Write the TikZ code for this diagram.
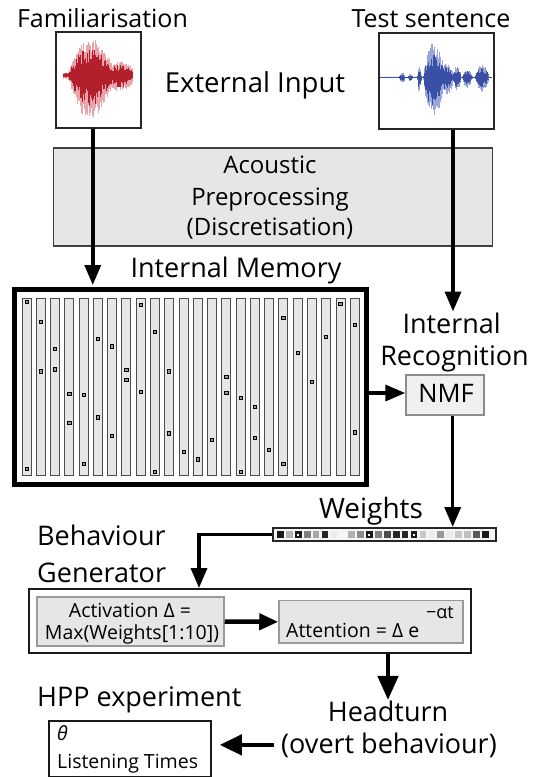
\documentclass[tikz,border=0pt]{standalone}
\usepackage{fontspec}
\setmainfont{Open Sans}
\usetikzlibrary{arrows.meta,calc}
\definecolor{wred}{HTML}{B3202B}
\definecolor{wredl}{HTML}{E9A3AB}
\definecolor{wblue}{HTML}{3A4FA6}
\definecolor{wbluel}{HTML}{9AA6DA}
\definecolor{boxgrey}{HTML}{E6E6E7}
\tikzset{
  big/.style={font=\fontsize{25}{30}\selectfont, inner sep=0pt},
  large/.style={font=\fontsize{27}{32}\selectfont, inner sep=0pt},
  mid/.style={font=\fontsize{24}{28}\selectfont, inner sep=0pt},
  small/.style={font=\fontsize{19.5}{23}\selectfont, inner sep=0pt},
  conn/.style={line width=3.5pt, -{Triangle[width=16pt,length=20pt]}},
  bigconn/.style={line width=4.5pt, -{Triangle[width=20pt,length=22pt]}},
  wavebox/.style={draw=black!85, line width=2pt, fill=white, inner sep=0pt},
  greybox/.style={draw=black!40, line width=1.5pt, fill=boxgrey, inner sep=0pt},
  plainbox/.style={draw=black!90, line width=2pt, fill=white, inner sep=0pt},
  membar/.style={draw=black!70, line width=0.8pt, fill=boxgrey},
  memdot/.style={draw=black, line width=0.7pt, fill=black!40},
}
\begin{document}
\begin{tikzpicture}[x=1pt,y=-1pt]
\useasboundingbox (0,0) rectangle (539,777);
\fill[white] (0,0) rectangle (539,777);

% ---------- external input boxes ----------
\node[wavebox, minimum width=84.5pt, minimum height=95.5pt] (fam) at (98.25,79.75) {};
\node[wavebox, minimum width=115pt, minimum height=95.7pt] (test) at (436.5,80.85) {};

% red waveform
\pgfmathsetseed{11}
\foreach \x in {63,63.6,...,133} {
  \pgfmathsetmacro\A{3 + 34*max(0,1-((\x-90)/22)^2) + 11*max(0,1-((\x-120)/16)^2)}
  \pgfmathsetmacro\ra{\A*(0.6+0.4*rnd)}
  \pgfmathsetmacro\rb{1.2*\A*(0.6+0.4*rnd)}
  \pgfmathsetmacro\rc{0.75*\A*(0.45+0.55*rnd)}
  \pgfmathsetmacro\rd{0.85*\A*(0.45+0.55*rnd)}
  \draw[wredl, line width=0.55pt] (\x,75.3-\ra) -- (\x,75.3+\rb);
  \draw[wred, line width=0.6pt] (\x,75.3-\rc) -- (\x,75.3+\rd);
}
% blue waveform
\pgfmathsetseed{5}
\foreach \x in {380,380.6,...,492} {
  \pgfmathsetmacro\A{0.8 + 34*max(0,1-((\x-433)/10)^2) + 14*max(0,1-((\x-446)/8)^2) + 11*max(0,1-((\x-457)/4)^2) + 8*max(0,1-((\x-467)/5)^2) + 12*max(0,1-((\x-482)/7)^2) + 12*max(0,1-((\x-419)/2)^2) + 4*max(0,1-((\x-402)/3)^2) + 3*max(0,1-((\x-410)/2)^2)}
  \pgfmathsetmacro\ra{\A*(0.6+0.4*rnd)}
  \pgfmathsetmacro\rb{1.2*\A*(0.6+0.4*rnd)}
  \pgfmathsetmacro\rc{0.75*\A*(0.45+0.55*rnd)}
  \pgfmathsetmacro\rd{0.85*\A*(0.45+0.55*rnd)}
  \draw[wbluel, line width=0.55pt] (\x,77.3-\ra) -- (\x,77.3+\rb);
  \draw[wblue, line width=0.6pt] (\x,77.3-\rc) -- (\x,77.3+\rd);
}

\node[big, anchor=base] (famlab) at (102.5,27) {Familiarisation};
\node[big, anchor=base] (testlab) at (431,27) {Test sentence};
\node[large, font=\fontsize{27.5}{32}\selectfont, anchor=base] (extlab) at (255,92) {External Input};

% ---------- preprocessing ----------
\node[greybox, draw=black!75, minimum width=439pt, minimum height=98pt] (pre) at (273,196.85) {};
\node[mid, anchor=base] (pre1) at (270,173.3) {Acoustic};
\node[mid, anchor=base] (pre2) at (270,205) {Preprocessing};
\node[mid, anchor=base] (pre3) at (270,235) {(Discretisation)};

% ---------- internal memory ----------
\node[draw=black, line width=5pt, fill=white, minimum width=352pt, minimum height=195pt, inner sep=0pt] (mem) at (190.5,387) {};
\foreach \i in {0,...,23} {
  \draw[membar] ({22+\i*14.27},298) rectangle ++(9,177);
}
\foreach \b/\y in {1/301.7, 1/469, 2/321.7, 2/371.3, 3/348.7, 3/369.3, 4/394, 4/422.7, 5/394.7, 5/463.7, 6/339, 6/417.3, 7/346.3, 7/435.7, 8/370, 8/379.7, 9/305, 9/391.7, 10/331.7, 10/471.7, 11/371.3, 11/433.3, 12/451.7, 13/459.3, 14/439.7, 15/376.7, 15/393, 16/397.7, 16/471.7, 17/406.7, 17/438, 18/450, 19/317.7, 19/464, 20/353, 21/381.7, 22/336.7, 23/303.7, 24/325, 24/432.3} {
  \draw[memdot] ({26.5+(\b-1)*14.27-1.6},\y-1.6) rectangle ++(3.2,3.2);
}
\node[large, anchor=base] (memlab) at (236,277) {Internal Memory};

% ---------- recognition ----------
\node[large, anchor=base] (rec1) at (451.7,333) {Internal};
\node[large, anchor=base] (rec2) at (454.5,365) {Recognition};
\node[greybox, draw=black!45, fill=black!6, minimum width=78pt, minimum height=40pt] (nmf) at (445,395) {};
\node[big, font=\fontsize{25.5}{30}\selectfont, anchor=base] (nmflab) at (446,402.7) {NMF};
\coordinate (recin) at (453,311.5);

% ---------- weights ----------
\node[draw=black!85, line width=2pt, fill=black!4, minimum width=223pt, minimum height=13pt, inner sep=0pt] (wts) at (384.35,534.5) {};
\foreach \i/\d in {1/90,2/30,3/90,4/50,5/35,6/85,7/8,8/3,9/30,10/45,11/90,12/50,13/70,14/85,15/85,16/90,17/22,18/8,19/40,20/8,21/22,22/25,23/65,24/90} {
  \draw[draw=black!\d!white, line width=0.6pt, fill=black!\d!white] ({280.3+(\i-1)*8.9-2.8},531.7) rectangle ++(5.6,5.6);
}
\foreach \i in {3,11,16} {
  \fill[white] ({280.3+(\i-1)*8.9-1},533.5) rectangle ++(2,2);
}
\node[large, font=\fontsize{28}{32}\selectfont, anchor=base] (wlab) at (371,518) {Weights};

% ---------- behaviour generator ----------
\node[large, anchor=base west] (bg1) at (37,545) {Behaviour};
\node[large, anchor=base west] (bg2) at (37,582) {Generator};
\node[plainbox, minimum width=442pt, minimum height=64pt] (beh) at (250,621) {};
\node[greybox, minimum width=187pt, minimum height=49pt] (act) at (130.5,621.5) {};
\node[small, anchor=base] (act1) at (130,617) {Activation Δ =};
\node[small, anchor=base] (act2) at (132,639) {Max(Weights[1:10])};
\node[greybox, minimum width=184pt, minimum height=42.3pt] (att) at (371,621.85) {};
\node[small, anchor=base west] (att1) at (286,637) {Attention = Δ e};
\node[small, font=\fontsize{18}{22}\selectfont, anchor=base west] (att2) at (426,618) {−αt};

% ---------- output ----------
\node[large, anchor=base] (head1) at (388,721.7) {Headturn};
\node[large, anchor=base] (head2) at (389,753) {(overt behaviour)};
\node[large, anchor=base west] (hpplab) at (37,706.7) {HPP experiment};
\node[draw=black!90, line width=1.5pt, fill=white, minimum width=162pt, minimum height=55.7pt, inner sep=0pt] (hpp) at (130,748.85) {};
\node[small, anchor=base west] (theta) at (57,740) {\itshape θ};
\node[small, anchor=base west] (lt) at (57,768) {Listening Times};

% ---------- connectors ----------
\draw[conn, shorten >=2pt] ([xshift=-5.5pt]fam.south) -- ([xshift=-5.5pt]fam.south |- mem.north);
\draw[conn] (test.south -| recin) -- (recin);
\draw[conn] ([yshift=2pt]mem.east |- nmf.west) -- ([yshift=2pt]nmf.west);
\draw[conn] ([xshift=7.7pt]nmf.south) -- ([xshift=7.7pt]nmf.south |- wts.north);
\draw[conn] (wts.west) -| ($(beh.north west)+(171,0)$);
\draw[bigconn, -{Triangle[width=16pt,length=19pt]}] (act.east) -- (att.west);
\draw[bigconn, -{Triangle[width=20pt,length=24pt]}, shorten >=1pt] (beh.south -| head1.north) -- (head1.north);
\draw[bigconn, shorten <=7pt, shorten >=8pt] (head2.west) -- (hpp.east |- head2.west);
\end{tikzpicture}
\end{document}
